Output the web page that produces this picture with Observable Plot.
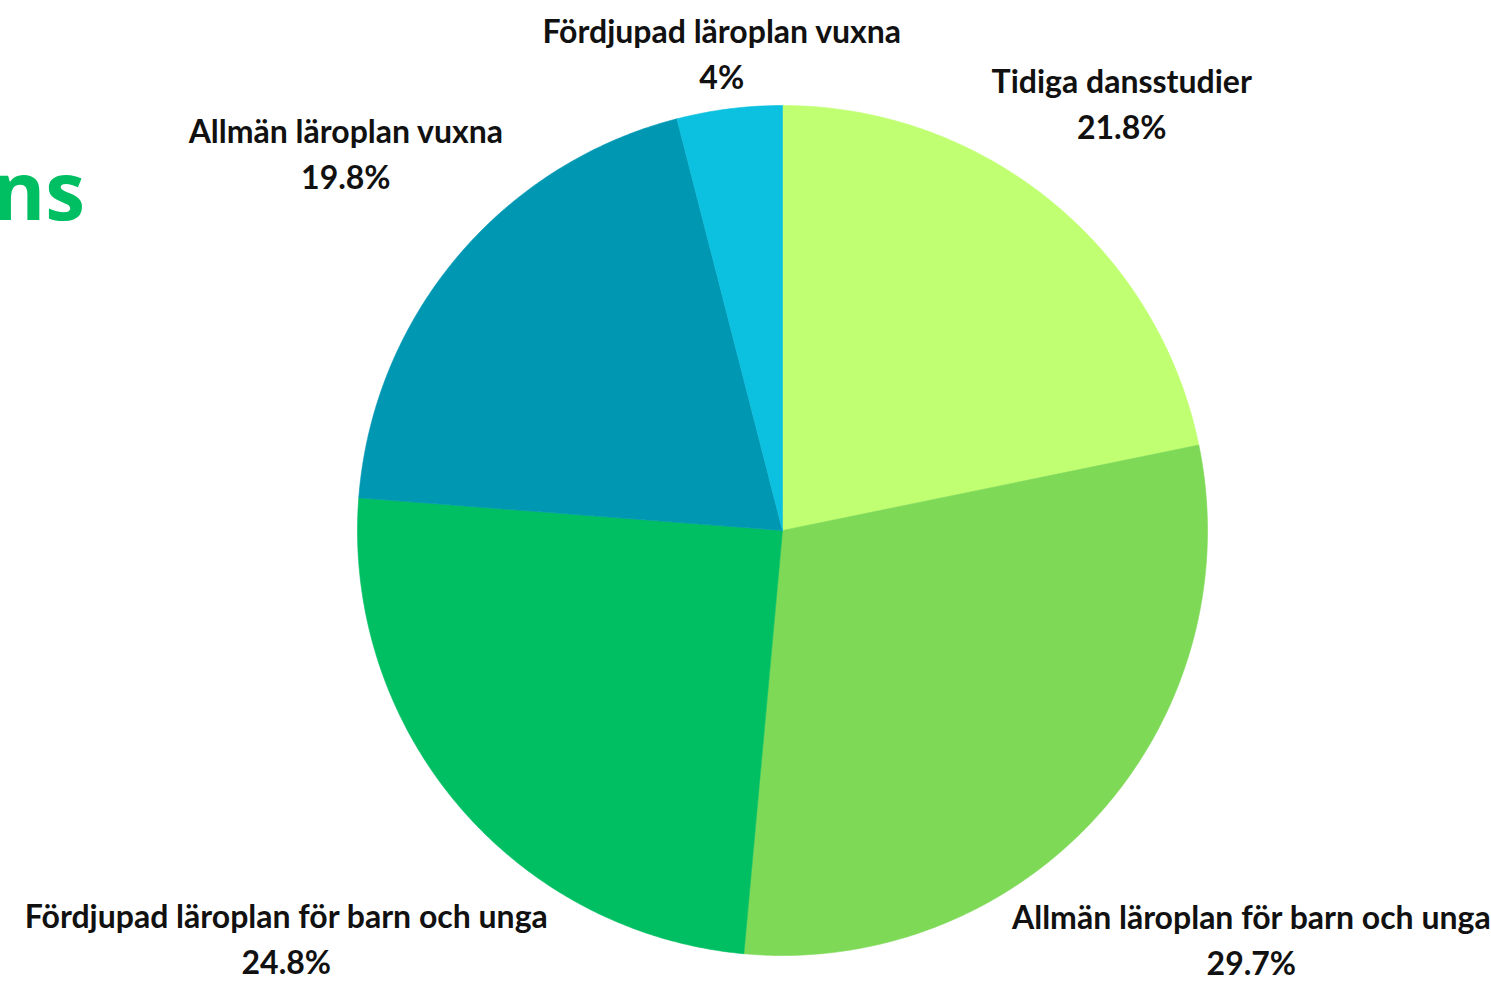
<!DOCTYPE html>
<html>
<head>
<meta charset="utf-8">
<script src="https://cdn.jsdelivr.net/npm/d3@7"></script>
<script src="https://cdn.jsdelivr.net/npm/@observablehq/plot@0.6"></script>
<style>
  html, body { margin: 0; padding: 0; background: #ffffff; overflow: hidden; }
  #wrap { position: relative; width: 1491px; height: 982px; overflow: hidden; }
  #title { position: absolute; right: 1406px; top: 149px; font: 700 80px/1 "Open Sans", sans-serif; color: #00bf63; white-space: nowrap; }
  #chart { position: absolute; left: 0; top: 0; }
</style>
</head>
<body>
<div id="wrap">
  <div id="title">dans</div>
  <div id="chart"></div>
</div>
<script>
const categories = [
  "Tidiga dansstudier",
  "Allmän läroplan för barn och unga",
  "Fördjupad läroplan för barn och unga",
  "Allmän läroplan vuxna",
  "Fördjupad läroplan vuxna"
];
const shares = [21.8, 29.7, 24.8, 19.8, 4];
const shareLabels = ["21.8%", "29.7%", "24.8%", "19.8%", "4%"];
const colors = ["#c1ff72", "#7ed957", "#00bf63", "#0097b2", "#0cc0df"];

const W = 1491, H = 982;
const cx = 782, cy = 530, R = 425;
const FONT_FAMILY = 'Lato, "Open Sans", sans-serif';
const FONT_SIZE = 32;
const LINE_H = 46;
const HALF_H = 38;     // half height of a two-line label block
const LIFT = 13;       // labels sit slightly above the radial position
const TOP_PAD = 13;    // keep labels inside the top edge

// pie geometry in units of the radius
const total = d3.sum(shares);
const slices = [];
let acc = 0;
shares.forEach((v, i) => {
  const a0 = acc / total * 2 * Math.PI;
  acc += v;
  const a1 = acc / total * 2 * Math.PI;
  slices.push({cat: categories[i], a0, a1, label: shareLabels[i]});
});

const pts = [];
for (const s of slices) {
  pts.push({cat: s.cat, x: 0, y: 0});
  const n = Math.max(2, Math.ceil((s.a1 - s.a0) / (Math.PI / 360)));
  for (let k = 0; k <= n; k++) {
    const a = s.a0 + (s.a1 - s.a0) * k / n;
    pts.push({cat: s.cat, x: Math.sin(a), y: Math.cos(a)});
  }
  pts.push({cat: s.cat, x: 0, y: 0});
}

// label placement: outside the pie along the mid angle, pushed by the text box extent
const ctx = document.createElement("canvas").getContext("2d");
ctx.font = `700 ${FONT_SIZE}px ${FONT_FAMILY}`;
const labels = slices.map(s => {
  const a = (s.a0 + s.a1) / 2;
  const halfW = Math.max(ctx.measureText(s.cat).width, ctx.measureText(s.label).width) / 2;
  const rPx = R + Math.abs(Math.sin(a)) * halfW + Math.abs(Math.cos(a)) * HALF_H;
  const px = cx + Math.sin(a) * rPx;
  let py = cy - Math.cos(a) * rPx - LIFT;
  py = Math.max(py, HALF_H + TOP_PAD);
  return {text: s.cat + "\n" + s.label, x: (px - cx) / R, y: (cy - py) / R};
});

const chart = Plot.plot({
  width: W,
  height: H,
  margin: 0,
  x: {domain: [-cx / R, (W - cx) / R], axis: null},
  y: {domain: [-(H - cy) / R, cy / R], axis: null},
  color: {domain: categories, range: colors},
  marks: [
    Plot.line(pts, {x: "x", y: "y", z: "cat", fill: "cat", stroke: "cat", strokeWidth: 0.6, curve: "linear"}),
    Plot.text(labels, {
      x: "x", y: "y", text: "text",
      fontSize: FONT_SIZE, fontWeight: 700, fontFamily: FONT_FAMILY,
      lineHeight: LINE_H / FONT_SIZE, textAnchor: "middle", lineAnchor: "middle",
      fill: "#111111"
    })
  ]
});
document.getElementById("chart").appendChild(chart);
</script>
</body>
</html>
